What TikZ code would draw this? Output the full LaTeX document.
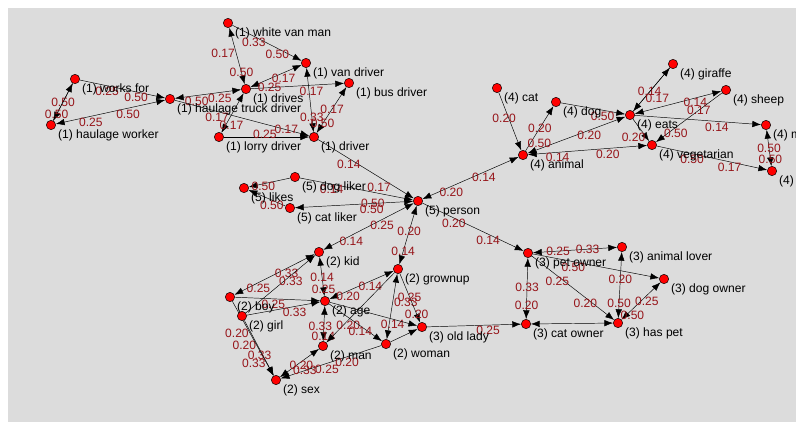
\documentclass[tikz,border=0pt]{standalone}
\usepackage{fontspec}
\setmainfont{Liberation Sans}
\usetikzlibrary{arrows.meta}
\definecolor{panel}{RGB}{220,220,220}
\definecolor{wtred}{RGB}{150,20,25}
\pgfdeclarelayer{bg}
\pgfsetlayers{bg,main}
\begin{document}
\begin{tikzpicture}[x=0.03cm,y=-0.03cm,>={Latex[length=7.5pt,width=5.5pt]},semithick,
  dot/.style={circle,draw,thin,fill=red,minimum size=8pt,inner sep=0pt},
  lbl/.style={font=\fontsize{10.3}{12}\selectfont,inner sep=1pt,xshift=1.8pt},
  wt/.style={font=\fontsize{10.3}{12}\selectfont,text=wtred,inner sep=1pt}]
\useasboundingbox (0,0) rectangle (796,434);
% (1) drivers
\node[dot,label={[lbl]below right:(1) works for}] (wf) at (75,79) {};
\node[dot,label={[lbl]below right:(1) haulage worker}] (hw) at (51,125) {};
\node[dot,label={[lbl]below right:(1) haulage truck driver}] (htd) at (170,99) {};
\node[dot,label={[lbl]below right:(1) white van man}] (wvm) at (228,23) {};
\node[dot,label={[lbl]below right:(1) van driver}] (vd) at (306,63) {};
\node[dot,label={[lbl]below right:(1) drives}] (dr) at (246,89) {};
\node[dot,label={[lbl]below right:(1) bus driver}] (bd) at (349,83) {};
\node[dot,label={[lbl]below right:(1) lorry driver}] (ld) at (219,137) {};
\node[dot,label={[lbl]below right:(1) driver}] (dv) at (314,137) {};
% (5) likers
\node[dot,label={[lbl]below right:(5) dog liker}] (dl) at (295,177) {};
\node[dot,label={[lbl]below right:(5) likes}] (lk) at (244,188) {};
\node[dot,label={[lbl]below right:(5) cat liker}] (cl) at (290,208) {};
\node[dot,label={[lbl]below right:(5) person}] (per) at (418,201) {};
% (4) animals
\node[dot,label={[lbl]below right:(4) cat}] (cat) at (497,88) {};
\node[dot,label={[lbl]below right:(4) dog}] (dog) at (556,102) {};
\node[dot,label={[lbl]below right:(4) eats}] (eats) at (630,115) {};
\node[dot,label={[lbl]below right:(4) giraffe}] (gir) at (673,64) {};
\node[dot,label={[lbl]below right:(4) sheep}] (shp) at (726,90) {};
\node[dot,label={[lbl]below right:(4) animal}] (ani) at (523,155) {};
\node[dot,label={[lbl]below right:(4) vegetarian}] (veg) at (652,145) {};
\node[dot,label={[lbl]below right:(4) m}] (mt) at (766,125) {};
\node[dot,label={[lbl]below right:(4)}] (bt) at (772,171) {};
% (2) people
\node[dot,label={[lbl]below right:(2) kid}] (kid) at (319,252) {};
\node[dot,label={[lbl]below right:(2) grownup}] (gu) at (398,269) {};
\node[dot,label={[lbl]below right:(2) boy}] (boy) at (230,297) {};
\node[dot,label={[lbl]below right:(2) girl}] (girl) at (242,316) {};
\node[dot,label={[lbl]below right:(2) age}] (age) at (325,301) {};
\node[dot,label={[lbl]below right:(3) old lady}] (ol) at (422,327) {};
\node[dot,label={[lbl]below right:(2) man}] (man) at (323,346) {};
\node[dot,label={[lbl]below right:(2) woman}] (wom) at (386,344) {};
\node[dot,label={[lbl]below right:(2) sex}] (sex) at (276,380) {};
% (3) owners
\node[dot,label={[lbl]below right:(3) pet owner}] (powner) at (528,253) {};
\node[dot,label={[lbl]below right:(3) animal lover}] (alover) at (622,247) {};
\node[dot,label={[lbl]below right:(3) dog owner}] (downer) at (664,279) {};
\node[dot,label={[lbl]below right:(3) cat owner}] (cowner) at (526,324) {};
\node[dot,label={[lbl]below right:(3) has pet}] (haspet) at (618,323) {};

\begin{pgfonlayer}{bg}
\fill[panel] (8,8) rectangle (796,422);
% group (1)
\draw[->] (hw) -- node[wt,pos=.5] {0.50} (wf);
\draw[->] (wf) -- node[wt,pos=.83] {0.50} (hw);
\draw[<->] (hw) -- node[wt,pos=.32,below] {0.25} node[wt,pos=.66,below] {0.50} (htd);
\draw[->] (wf) -- node[wt,pos=.32,below] {0.25} node[wt,pos=.66,below] {0.50} (htd);
\draw[<->] (htd) -- node[wt,pos=.33,below] {0.50} node[wt,pos=.68,below] {0.25} (dr);
\draw[<->] (wvm) -- node[wt,pos=.45,left] {0.17} node[wt,pos=.79] {0.50} (dr);
\draw[->] (wvm) -- node[wt,pos=.31,below] {0.33} node[wt,pos=.65,below] {0.50} (vd);
\draw[<->] (dr) -- node[wt,pos=.65,below] {0.17} (vd);
\draw[->] (dr) -- node[wt,pos=.2] {0.25} node[wt,pos=.65,below] {0.17} (bd);
\draw[<->] (vd) -- node[wt,pos=.77] {0.33} (dv);
\draw[<->] (bd) -- node[wt,pos=.48] {0.17} node[wt,pos=.8] {0.50} (dv);
\draw[->] (ld) -- node[wt,pos=.48,yshift=2pt] {0.25} (dv);
\draw[->] (htd) -- node[wt,pos=.83] {0.17} (dv);
\draw[<->] (dr) -- node[wt,pos=.6,left] {0.17} node[wt,pos=.81,xshift=5pt] {0.17} (ld);
\draw[->] (dv) -- node[wt,pos=.32,below] {0.14} (per);
% group (4)
\draw[->] (cat) -- node[wt,pos=.45,xshift=-4pt] {0.20} (ani);
\draw[->] (ani) -- node[wt,pos=.51] {0.20} (dog);
\draw[<->] (ani) -- node[wt,pos=.12,yshift=5pt] {0.50} node[wt,pos=.63,yshift=-4pt] {0.20} (eats);
\draw[->] (dog) -- node[wt,pos=.65,below] {0.50} (eats);
\draw[<->] (ani) -- node[wt,pos=.25,yshift=-4pt] {0.14} node[wt,pos=.67,below] {0.20} (veg);
\draw[->] (eats) -- node[wt,pos=.85,left] {0.20} (veg);
\draw[->] (eats) -- node[wt,pos=.45] {0.14} (gir);
\draw[->] (gir) -- node[wt,pos=.7,right] {0.17} (eats);
\draw[<->] (eats) -- node[wt,pos=.7,yshift=-4pt] {0.14} (shp);
\draw[->] (shp) -- node[wt,pos=.35] {0.17} node[wt,pos=.7,yshift=-5pt] {0.50} (veg);
\draw[->] (eats) -- node[wt,pos=.65,below] {0.14} (mt);
\draw[<->] (mt) -- node[wt,pos=.5] {0.50} node[wt,pos=.8] {0.50} (bt);
\draw[->] (veg) -- node[wt,pos=.32,below] {0.50} node[wt,pos=.66,below] {0.17} (bt);
% group (5)
\draw[->] (dl) -- node[wt,pos=.65,yshift=-2pt] {0.50} (lk);
\draw[->] (cl) -- node[wt,pos=.37,below] {0.50} (lk);
\draw[<->] (per) -- node[wt,pos=.34] {0.50} node[wt,pos=.35,below] {0.50} (cl);
\draw[->] (dl) -- node[wt,pos=.28,below] {0.14} node[wt,pos=.7,above] {0.17} (per);
\draw[<->] (ani) -- node[wt,pos=.36,below] {0.14} node[wt,pos=.7,below] {0.20} (per);
\draw[->] (per) -- node[wt,pos=.31,below] {0.20} node[wt,pos=.65,below] {0.14} (powner);
\draw[<->] (per) -- node[wt,pos=.35,below] {0.25} node[wt,pos=.69,below] {0.14} (kid);
\draw[<->] (per) -- node[wt,pos=.43] {0.20} node[wt,pos=.78] {0.14} (gu);
% group (2)
\draw[<->] (boy) -- node[wt,pos=.3,below] {0.25} node[wt,pos=.65,yshift=-4pt] {0.33} (kid);
\draw[->] (girl) -- node[wt,pos=.65,below] {0.33} (kid);
\draw[->] (boy) -- node[wt,pos=.45,below] {0.25} (age);
\draw[->] (girl) -- node[wt,pos=.65,below] {0.33} (age);
\draw[->] (girl) -- node[wt,pos=.45,left] {0.20} node[wt,pos=.64,xshift=-3pt] {0.33} (sex);
\draw[->] (boy) -- node[wt,pos=.43,left] {0.20} node[wt,pos=.84,left] {0.33} (sex);
\draw[<->] (kid) -- node[wt,pos=.51] {0.14} node[wt,pos=.82] {0.25} (age);
\draw[<->] (age) -- node[wt,pos=.29,below] {0.20} node[wt,pos=.64,below] {0.14} (gu);
\draw[<->] (age) -- node[wt,pos=.58,xshift=-3pt] {0.33} node[wt,pos=.87] {0.14} (man);
\draw[<->] (gu) -- node[wt,pos=.44,right] {0.33} node[wt,pos=.77,xshift=3pt] {0.14} (wom);
\draw[->] (gu) -- node[wt,pos=.48] {0.25} node[wt,pos=.83] {0.20} (ol);
\draw[->] (gu) -- node[wt,pos=.68,below] {0.20} (man);
\draw[->] (age) -- (ol);
\draw[->] (age) -- node[wt,pos=.59,below] {0.14} (wom);
\draw[->] (wom) -- (ol);
\draw[<->] (man) -- node[wt,pos=.45,yshift=-3pt] {0.20} (sex);
\draw[->] (wom) -- node[wt,pos=.34,below] {0.20} node[wt,pos=.54,below] {0.25} node[wt,pos=.76] {0.33} (sex);
\draw[->] (ol) -- node[wt,pos=.65,below] {0.25} (cowner);
% group (3)
\draw[<->] (powner) -- node[wt,pos=.3] {0.25} node[wt,pos=.65] {0.33} (alover);
\draw[<->] (alover) -- node[wt,pos=.41] {0.20} node[wt,pos=.78] {0.50} (haspet);
\draw[->] (powner) -- node[wt,pos=.32,below] {0.50} (downer);
\draw[<->] (haspet) -- node[wt,pos=.28,yshift=-5pt] {0.50} node[wt,pos=.65,below] {0.25} (downer);
\draw[<->] (powner) -- node[wt,pos=.48] {0.33} node[wt,pos=.77] {0.20} (cowner);
\draw[->] (powner) -- node[wt,pos=.31,below] {0.25} node[wt,pos=.65,below] {0.20} (haspet);
\draw[<->] (cowner) -- (haspet);
\end{pgfonlayer}
\end{tikzpicture}
\end{document}
